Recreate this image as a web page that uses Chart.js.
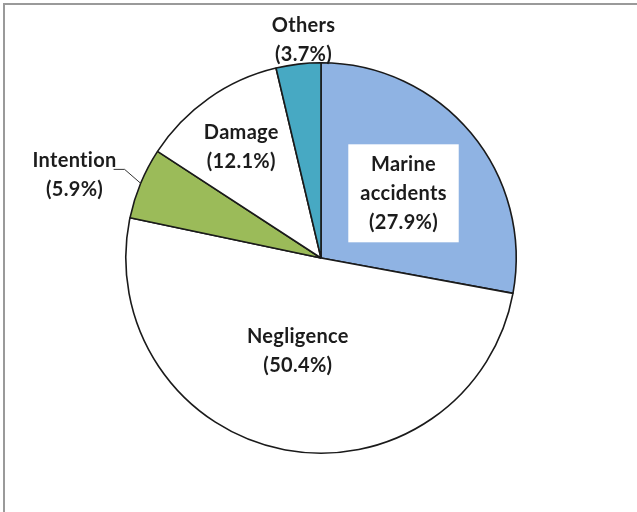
<html>
<head>
    <title>Causes of incidents</title>
    <script src="https://cdn.jsdelivr.net/npm/chart.js@4.4.1/dist/chart.umd.min.js"></script>
    <style>
        body { margin: 0; background: #ffffff; overflow: hidden; }
        #frame {
            position: absolute; left: 3px; top: 3px; width: 700px; height: 600px;
            border-left: 2px solid #9a9a9a; border-top: 2px solid #9a9a9a;
        }
        #wrap { position: absolute; left: 0; top: 0; width: 637px; height: 512px; }
    </style>
</head>
<body>
<div id="frame"></div>
<div id="wrap"><canvas id="pie" width="637" height="512"></canvas></div>
<script>
    // share of each cause, in percent (clockwise from 12 o'clock)
    var causes = ["Marine accidents", "Negligence", "Intention", "Damage", "Others"];
    var shares = [27.9, 50.4, 5.9, 12.1, 3.7];
    var sliceColors = ["#8fb3e3", "#ffffff", "#9bbb59", "#ffffff", "#47a9c3"];

    // label text split over lines
    var labelLines = [
        ["Marine", "accidents"],
        ["Negligence"],
        ["Intention"],
        ["Damage"],
        ["Others"]
    ];
    // where each label sits: fraction of radius along the slice middle, plus a nudge
    var labelPlace = [
        { r: 0.55, dx: 0, dy: 4, box: true },
        { r: 0.48, dx: -5, dy: 1 },
        { r: 1.30, dx: -12, dy: 14, leader: true },
        { r: 0.71, dx: 0, dy: 2 },
        { r: 1.125, dx: 8, dy: 0 }
    ];

    var FONT = "bold 20px Lato, 'Open Sans', sans-serif";
    var LINE = 29;
    var INK = "#1c1c1c";

    var sliceLabels = {
        id: "sliceLabels",
        afterDatasetsDraw: function (chart) {
            var ctx = chart.ctx;
            var meta = chart.getDatasetMeta(0);
            ctx.save();
            ctx.font = FONT;
            ctx.letterSpacing = "0.3px";   // also keeps "ti" from joining
            ctx.textAlign = "center";
            ctx.textBaseline = "middle";
            meta.data.forEach(function (arc, i) {
                var p = labelPlace[i];
                var mid = (arc.startAngle + arc.endAngle) / 2;
                var R = arc.outerRadius;
                var cx = arc.x + Math.cos(mid) * R * p.r + p.dx;
                var cy = arc.y + Math.sin(mid) * R * p.r + p.dy;
                var lines = labelLines[i].concat(["(" + shares[i].toFixed(1) + "%)"]);
                var top = cy - (lines.length - 1) * LINE / 2;

                if (p.box) {
                    var w = 0;
                    lines.forEach(function (t) { w = Math.max(w, ctx.measureText(t).width); });
                    ctx.fillStyle = "#ffffff";
                    ctx.fillRect(cx - w / 2 - 12, top - 20, w + 24, (lines.length - 1) * LINE + 40);
                }
                if (p.leader) {
                    var tw = ctx.measureText(lines[0]).width;
                    var ux = cx + tw / 2;
                    var uy = top + 9;
                    ctx.strokeStyle = "#333333";
                    ctx.lineWidth = 1;
                    ctx.beginPath();
                    ctx.moveTo(ux - 3, uy);
                    ctx.lineTo(ux + 8, uy);
                    ctx.lineTo(arc.x + Math.cos(mid) * R, arc.y + Math.sin(mid) * R);
                    ctx.stroke();
                }
                ctx.fillStyle = INK;
                lines.forEach(function (t, k) {
                    ctx.fillText(t, cx, top + k * LINE);
                });
            });
            ctx.restore();
        }
    };

    new Chart(document.getElementById("pie"), {
        type: "pie",
        data: {
            labels: causes,
            datasets: [{
                data: shares,
                backgroundColor: sliceColors,
                borderColor: "#1a1a1a",
                borderWidth: 1.6
            }]
        },
        options: {
            responsive: false,
            animation: false,
            layout: { padding: { left: 125, right: 120, top: 62, bottom: 58 } },
            plugins: {
                legend: { display: false },
                tooltip: { enabled: false }
            }
        },
        plugins: [sliceLabels]
    });
</script>
</body>
</html>
